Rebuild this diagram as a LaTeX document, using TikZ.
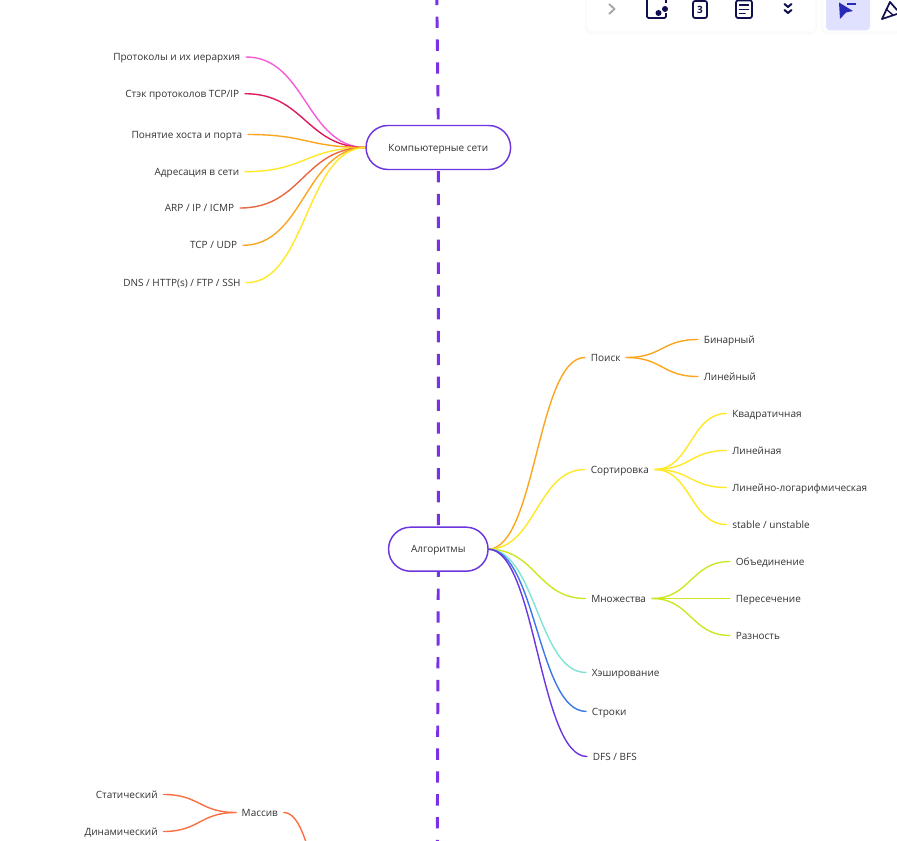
\documentclass[tikz,border=0pt]{standalone}
\usepackage{fontspec}
\setmainfont{Open Sans}
\usetikzlibrary{backgrounds}
\definecolor{spinec}{HTML}{7A30E6}
\definecolor{txt}{HTML}{333333}
\definecolor{navy}{HTML}{10104E}
\definecolor{cpink}{HTML}{F65CD9}
\definecolor{ccrim}{HTML}{DC1B5E}
\definecolor{corange}{HTML}{FAA61E}
\definecolor{cyellow}{HTML}{FFE828}
\definecolor{cred}{HTML}{E8683F}
\definecolor{clime}{HTML}{CFE625}
\definecolor{cteal}{HTML}{80E4D4}
\definecolor{cblue}{HTML}{3B78E7}
\definecolor{cviolet}{HTML}{6D35E0}
\definecolor{ccoral}{HTML}{FB6F45}
\definecolor{cursorc}{HTML}{2A2AB8}
\tikzset{
  lbl/.style={font=\fontsize{7.5pt}{8.5pt}\selectfont,text=txt,inner xsep=4.4pt,inner ysep=0pt,outer sep=0pt,text height=7pt,text depth=1.5pt},
  rootnode/.style={lbl,draw=cviolet,fill=white,line width=1.1pt,rounded corners=16.4pt,minimum height=33pt,inner xsep=0pt,align=center},
  conn/.style={line width=1.05pt,line cap=round},
  spine/.style={draw=spinec,line width=2.2pt,dash pattern=on 8.5pt off 8.64pt},
  panel/.style={fill=white,rounded corners=4pt},
  iconline/.style={draw=navy,line width=1.3pt,line join=round,line cap=round},
}
\begin{document}
\begin{tikzpicture}[x=0.75pt,y=-0.75pt]
\useasboundingbox (0,0) rectangle (897,841);
\clip (0,0) rectangle (897,841);

% root nodes
\node[rootnode,minimum width=108.4pt] (net) at (438.35,147.5) {Компьютерные сети};
\node[rootnode,minimum width=74.6pt] (algo) at (438.3,549.2) {Алгоритмы};

% left labels
\node[lbl,anchor=east] (n1) at (246,57) {Протоколы и их иерархия};
\node[lbl,anchor=east] (n2) at (245,93.7) {Стэк протоколов TCP/IP};
\node[lbl,anchor=east] (n3) at (248,134.5) {Понятие хоста и порта};
\node[lbl,anchor=east] (n4) at (245,171.7) {Адресация в сети};
\node[lbl,anchor=east] (n5) at (240,208) {ARP / IP / ICMP};
\node[lbl,anchor=east] (n6) at (243,245.3) {TCP / UDP};
\node[lbl,anchor=east] (n7) at (246.5,282.7) {DNS / HTTP(s) / FTP / SSH};

% right labels
\node[lbl,anchor=west] (a1) at (585,357.5) {Поиск};
\node[lbl,anchor=west] (a11) at (698,339.5) {Бинарный};
\node[lbl,anchor=west] (a12) at (698,376.5) {Линейный};
\node[lbl,anchor=west] (a2) at (585,469.5) {Сортировка};
\node[lbl,anchor=west] (a21) at (726.5,413.5) {Квадратичная};
\node[lbl,anchor=west] (a22) at (726.5,450.5) {Линейная};
\node[lbl,anchor=west] (a23) at (726.5,487.5) {Линейно-логарифмическая};
\node[lbl,anchor=west] (a24) at (726.5,524.5) {stable / unstable};
\node[lbl,anchor=west] (a3) at (585.5,598.5) {Множества};
\node[lbl,anchor=west] (a31) at (730,561.5) {Объединение};
\node[lbl,anchor=west] (a32) at (730,598.5) {Пересечение};
\node[lbl,anchor=west] (a33) at (730,635.5) {Разность};
\node[lbl,anchor=west] (a4) at (586,672.5) {Хэширование};
\node[lbl,anchor=west] (a5) at (586,711.4) {Строки};
\node[lbl,anchor=west] (a6) at (587,756.5) {DFS / BFS};

% bottom left
\node[lbl,anchor=center] (m) at (259.8,812.5) {Массив};
\node[lbl,anchor=east] (m1) at (163.5,794.5) {Статический};
\node[lbl,anchor=east] (m2) at (163.5,831.5) {Динамический};
\coordinate (mroot) at (352,930);
\coordinate (top) at (436.7,-6.25);
\coordinate (bottom) at (437.2,870);

\begin{scope}[on background layer]
\fill[white] (0,0) rectangle (897,841);
\draw[spine] (top) -- (net.north);
\draw[spine,dash phase=16pt] (net.south) -- (algo.north);
\draw[spine,dash phase=4.16pt] (algo.south) -- (bottom);

\draw[conn,cpink] (n1.east) .. controls +(60,0) and +(-60,0) .. (net.west);
\draw[conn,ccrim] (n2.east) .. controls +(60,0) and +(-60,0) .. (net.west);
\draw[conn,corange] (n3.east) .. controls +(59,0) and +(-59,0) .. (net.west);
\draw[conn,cyellow] (n4.east) .. controls +(60,0) and +(-60,0) .. (net.west);
\draw[conn,cred] (n5.east) .. controls +(63,0) and +(-63,0) .. (net.west);
\draw[conn,corange] (n6.east) .. controls +(61,0) and +(-61,0) .. (net.west);
\draw[conn,cyellow] (n7.east) .. controls +(60,0) and +(-60,0) .. (net.west);

\draw[conn,corange] (algo.east) .. controls +(48,0) and +(-48,0) .. (a1.west);
\draw[conn,cyellow] (algo.east) .. controls +(48,0) and +(-48,0) .. (a2.west);
\draw[conn,clime] (algo.east) .. controls +(48,0) and +(-48,0) .. (a3.west);
\draw[conn,cteal] (algo.east) .. controls +(48,0) and +(-48,0) .. (a4.west);
\draw[conn,cblue] (algo.east) .. controls +(48,0) and +(-48,0) .. (a5.west);
\draw[conn,cviolet] (algo.east) .. controls +(48,0) and +(-48,0) .. (a6.west);

\draw[conn,corange] (a1.east) .. controls +(36,0) and +(-36,0) .. (a11.west);
\draw[conn,corange] (a1.east) .. controls +(36,0) and +(-36,0) .. (a12.west);
\draw[conn,cyellow] (a2.east) .. controls +(36,0) and +(-36,0) .. (a21.west);
\draw[conn,cyellow] (a2.east) .. controls +(36,0) and +(-36,0) .. (a22.west);
\draw[conn,cyellow] (a2.east) .. controls +(36,0) and +(-36,0) .. (a23.west);
\draw[conn,cyellow] (a2.east) .. controls +(36,0) and +(-36,0) .. (a24.west);
\draw[conn,clime] (a3.east) .. controls +(39,0) and +(-39,0) .. (a31.west);
\draw[conn,clime] (a3.east) -- (a32.west);
\draw[conn,clime] (a3.east) .. controls +(39,0) and +(-39,0) .. (a33.west);

\draw[conn,ccoral] (m.west) .. controls +(-36,0) and +(36,0) .. (m1.east);
\draw[conn,ccoral] (m.west) .. controls +(-36,0) and +(36,0) .. (m2.east);
\draw[conn,ccoral] (m.east) .. controls +(30,0) and +(-38,0) .. (mroot);
\end{scope}

% toolbar
\fill[fill=black!1.5,rounded corners=6pt] (585,-10) rectangle (817,35);
\fill[fill=black!1.5,rounded corners=6pt] (821,-10) rectangle (900,35);
\fill[panel] (587,-10) rectangle (815,31.5);
\fill[panel] (823,-10) rectangle (900,31.5);
\fill[fill=blue!12!white,rounded corners=3pt] (826,-10) rectangle (870,30.5);
% chevron
\draw[draw=gray!70,line width=1.4pt,line join=round] (609,4) -- (614.5,9) -- (609,14);
% icon 1
\draw[iconline,rounded corners=1pt] (647,-2) -- (647,18) -- (666,18) -- (666,-2);
\fill[white] (660,3) rectangle (670,13);
\fill[navy] (658.5,13) circle (3);
\fill[navy] (665,9) circle (3);
% icon 2
\draw[iconline,rounded corners=1.5pt] (693,1) rectangle (707,18);
\node[inner sep=0pt,text=navy,font=\bfseries\fontsize{7.5pt}{8pt}\selectfont] (three) at (700,9.5) {3};
% icon 3
\draw[iconline,rounded corners=1.5pt] (736,0.5) rectangle (752,18);
\draw[iconline] (739.5,5) -- (748.5,5);
\draw[iconline] (739.5,9.5) -- (748.5,9.5);
\draw[iconline] (739.5,13.5) -- (745,13.5);
% icon 4
\draw[iconline,line width=1.5pt] (784.5,4) -- (788,7) -- (791.5,4);
\draw[iconline,line width=1.5pt] (784.5,10) -- (788,13) -- (791.5,10);
% cursor
\fill[fill=cursorc] (839,2.5) -- (853,11) -- (846,12.5) -- (840,19) -- cycle;
\fill[fill=cursorc] (847,3) rectangle (856,5);
\fill[fill=cursorc] (850,-2) rectangle (859,0.5);
% popper
\draw[iconline] (882,19) -- (890,2) -- (897,10);
\draw[iconline] (882,19) -- (897,14);
\draw[iconline,line width=1pt] (886,9) -- (893,15);
\end{tikzpicture}
\end{document}
